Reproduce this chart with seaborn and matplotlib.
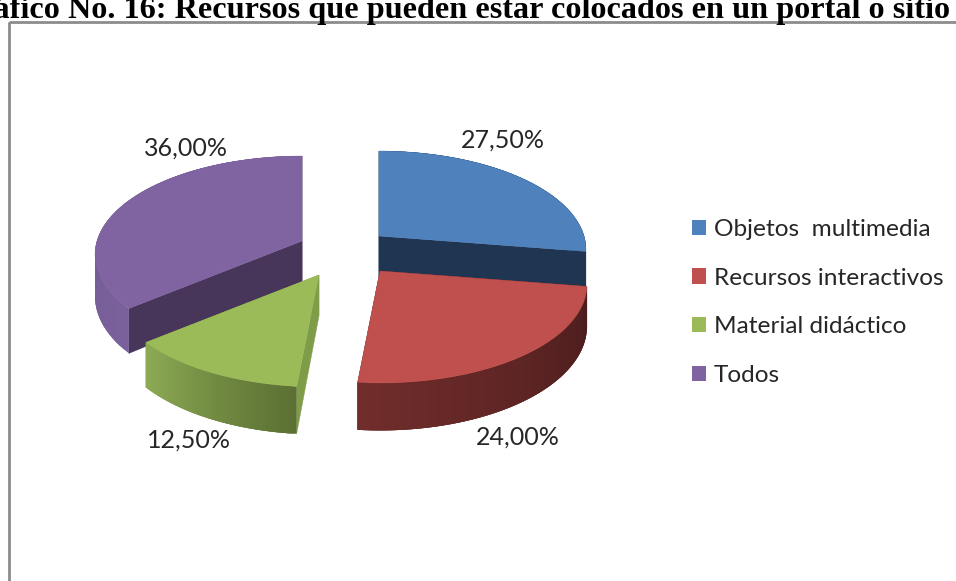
import numpy as np
import matplotlib
matplotlib.use("Agg")
import matplotlib.pyplot as plt
from matplotlib.patches import Polygon, Rectangle
import seaborn as sns

# ---- data ----
categories = ["Objetos  multimedia", "Recursos interactivos", "Material didáctico", "Todos"]
values = [27.5, 24.0, 12.5, 36.0]
value_labels = ["27,50%", "24,00%", "12,50%", "36,00%"]
title = "Gráfico No. 16: Recursos que pueden estar colocados en un portal o sitio"

# ---- style ----
top_colors = ["#4f81bd", "#c0504d", "#9bbb59", "#8064a2"]
wall_from = ["#1f3552", "#4a1c1c", "#5b7032", "#7a619c"]
wall_to = ["#1f3552", "#702d2b", "#8dab55", "#6a5488"]
face_colors = ["#1f3552", "#4a1c1c", "#7f9c49", "#473659"]
centers = [(379, 236), (380, 271), (319, 275), (302, 241)]
label_pos = [(503, 140), (518, 437), (189, 440), (186, 148)]
RX, RY, K, DEPTH = 205, 96.6, 0.137, 41

W, H = 956, 581
sns.set_theme(style="white")
plt.rcParams["font.family"] = ["Lato", "DejaVu Sans"]

fig = plt.figure(figsize=(W / 100, H / 100), dpi=100, facecolor="white")
ax = fig.add_axes([0, 0, 1, 1])
ax.set_xlim(0, W)
ax.set_ylim(H, 0)
ax.axis("off")


def project(theta, center, depth=0.0):
    """Perspective projection of a rim point; theta runs clockwise from the back."""
    s, c = np.sin(theta), np.cos(theta)
    f = 1 + K * c
    return np.column_stack([center[0] + RX * s / f,
                            center[1] - RY * c / f + DEPTH * depth / f])


def hex_mix(a, b, t):
    a = np.array(matplotlib.colors.to_rgb(a))
    b = np.array(matplotlib.colors.to_rgb(b))
    return tuple(a + (b - a) * t)


def draw_slice(start, end, center, top, w0, w1, face):
    apex_t = np.array(center, float)
    apex_b = apex_t + [0, DEPTH]
    thetas = np.linspace(start, end, 60)
    rim_t = project(thetas, center)
    rim_b = project(thetas, center, 1)
    # radial faces
    ax.add_patch(Polygon([apex_t, rim_t[0], rim_b[0], apex_b], fc=face, ec=face, lw=0.3, zorder=2))
    ax.add_patch(Polygon([apex_t, rim_t[-1], rim_b[-1], apex_b], fc=face, ec=face, lw=0.3, zorder=2))
    # outer wall: overlapping quads painted in order, so no seams show
    n = len(thetas)
    for i in range(n - 1):
        j = min(i + 3, n - 1)
        col = hex_mix(w0, w1, i / (n - 2))
        ax.add_patch(Polygon(np.vstack([rim_t[i:j + 1], rim_b[i:j + 1][::-1]]),
                             fc=col, ec="none", lw=0, zorder=3))
    # top surface
    ax.add_patch(Polygon(np.vstack([apex_t, rim_t]), fc=top, ec=top, lw=0.3, zorder=4))


fractions = np.array(values) / np.sum(values)
edges = np.concatenate([[0], np.cumsum(fractions)]) * 2 * np.pi
for i in [3, 0, 2, 1]:
    draw_slice(edges[i], edges[i + 1], centers[i], top_colors[i],
               wall_from[i], wall_to[i], face_colors[i])

for (x, y), txt in zip(label_pos, value_labels):
    ax.text(x, y, txt, ha="center", va="center", fontsize=18, color="#262626", zorder=6)

# chart frame (runs past the right and bottom edges of the picture)
ax.add_patch(Rectangle((9, 22), 1000, 700, fc="none", ec="#8c8c8c", lw=2, zorder=1))

# heading, cropped by the picture's edges as in the reference
ax.text(452, 18, title, ha="center", va="baseline", fontsize=23.2,
        family="Liberation Serif", fontweight="bold", color="black", zorder=6, clip_on=True)

handles = [Rectangle((0, 0), 1, 1, fc=c, ec="none") for c in top_colors]
ax.legend(handles, categories, loc="upper left", bbox_to_anchor=(692 / W, 1 - 219 / H),
          bbox_transform=fig.transFigure, frameon=False, fontsize=17.6,
          handlelength=0.57, handleheight=0.57, handletextpad=0.33, labelspacing=1.13,
          borderpad=0, borderaxespad=0, labelcolor="#262626")

fig.savefig("out.png", dpi=100, facecolor="white")
